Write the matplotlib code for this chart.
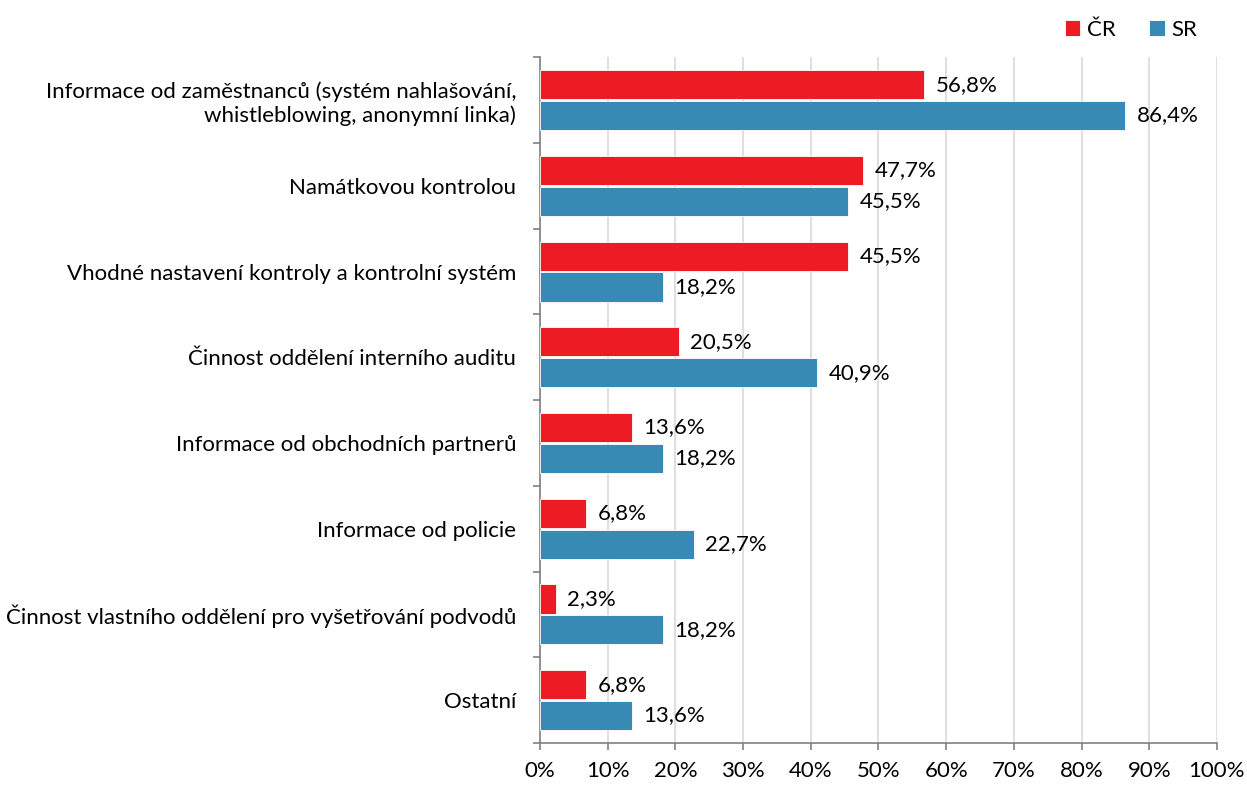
import matplotlib.pyplot as plt
import numpy as np
from matplotlib.ticker import FixedLocator, PercentFormatter

plt.rcParams['font.family'] = ['Lato', 'DejaVu Sans']

categories = ['Informace od zaměstnanců (systém nahlašování,\nwhistleblowing, anonymní linka)',
              'Namátkovou kontrolou',
              'Vhodné nastavení kontroly a kontrolní systém',
              'Činnost oddělení interního auditu',
              'Informace od obchodních partnerů',
              'Informace od policie',
              'Činnost vlastního oddělení pro vyšetřování podvodů',
              'Ostatní']
cr = [56.8, 47.7, 45.5, 20.5, 13.6, 6.8, 2.3, 6.8]
sr = [86.4, 45.5, 18.2, 40.9, 18.2, 22.7, 18.2, 13.6]

red = '#ED1C24'
blue = '#378AB4'
fs = 16

fig = plt.figure(figsize=(12.47, 7.85), dpi=100)
ax = fig.add_axes([0.433, 0.0535, 0.5429, 0.8735])

y = np.arange(len(categories))
h = 0.34
b1 = ax.barh(y - 0.18, cr, height=h, color=red, edgecolor='white', linewidth=0.6, label='ČR', zorder=3)
b2 = ax.barh(y + 0.18, sr, height=h, color=blue, edgecolor='white', linewidth=0.6, label='SR', zorder=3)

for bars, vals in ((b1, cr), (b2, sr)):
    for rect, v in zip(bars, vals):
        ax.text(v + 1.7, rect.get_y() + rect.get_height() / 2,
                f'{v:.1f}%'.replace('.', ','), va='center', ha='left', fontsize=fs)

ax.set_xlim(0, 100)
ax.set_ylim(len(categories) - 0.5, -0.5)
ax.xaxis.set_major_locator(FixedLocator(np.arange(0, 101, 10)))
ax.xaxis.set_major_formatter(PercentFormatter(decimals=0))
ax.grid(axis='x', color='#D9D9D9', linewidth=1.2, zorder=0)

ax.set_yticks(np.arange(-0.5, len(categories), 1))
ax.set_yticklabels([])
ax.set_yticks(y, minor=True)
ax.set_yticklabels(categories, minor=True, fontsize=fs, ha='right')
ax.tick_params(axis='y', which='minor', length=0, pad=17)
ax.tick_params(axis='y', which='major', length=5, color='#808080', width=1.2)
ax.tick_params(axis='x', length=5, color='#808080', width=1.2, labelsize=fs, pad=8)

for s in ('top', 'right'):
    ax.spines[s].set_visible(False)
for s in ('left', 'bottom'):
    ax.spines[s].set_color('#808080')
    ax.spines[s].set_linewidth(1.2)

fig.legend(handles=[b1, b2], loc='upper right', bbox_to_anchor=(0.976, 1.0), ncol=2,
           frameon=False, fontsize=fs, handlelength=0.7, handleheight=0.7,
           handletextpad=0.3, columnspacing=1.5)

fig.savefig('out.png', dpi=100)
